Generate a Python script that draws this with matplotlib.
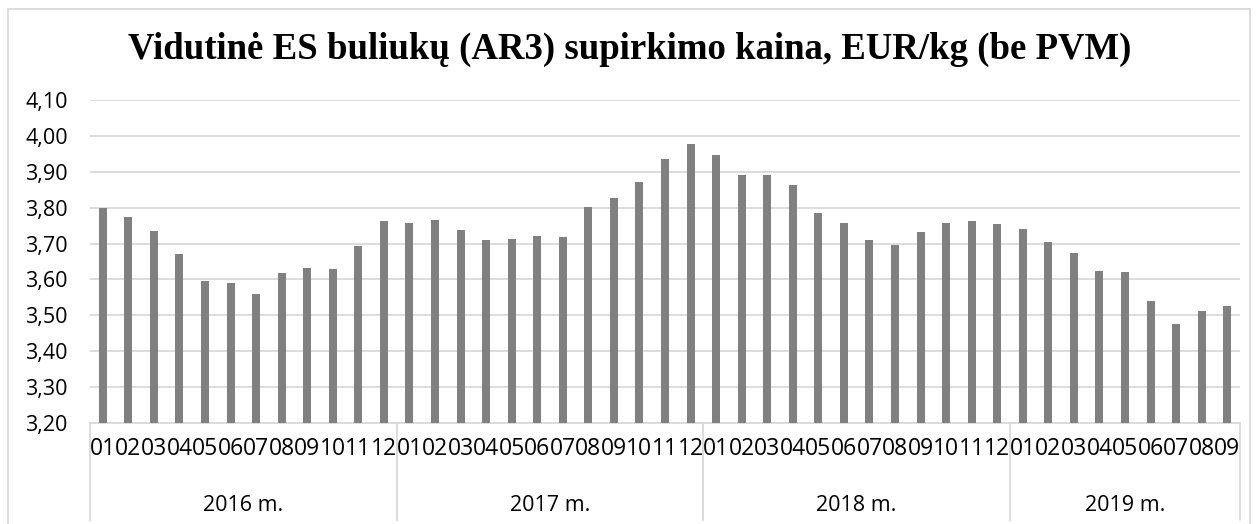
import matplotlib.pyplot as plt
from matplotlib.patches import Rectangle
from matplotlib.transforms import blended_transform_factory

# Duomenys: EUR/kg, menesiais
metai = ['2016 m.', '2017 m.', '2018 m.', '2019 m.']
menesiai_metuose = [12, 12, 12, 9]
kainos = [
    3.800, 3.775, 3.734, 3.670, 3.595, 3.591, 3.560, 3.617, 3.632, 3.628, 3.693, 3.763,
    3.757, 3.765, 3.738, 3.710, 3.713, 3.720, 3.719, 3.803, 3.827, 3.872, 3.935, 3.977,
    3.948, 3.890, 3.891, 3.862, 3.784, 3.756, 3.711, 3.696, 3.731, 3.756, 3.764, 3.754,
    3.741, 3.705, 3.675, 3.624, 3.621, 3.540, 3.475, 3.511, 3.525,
]
y_ticks = [3.2, 3.3, 3.4, 3.5, 3.6, 3.7, 3.8, 3.9, 4.0, 4.1]

men_labels = []
for n in menesiai_metuose:
    men_labels += ['%02d' % m for m in range(1, n + 1)]
x = list(range(len(kainos)))

fig = plt.figure(figsize=(12.59, 5.24), dpi=100)
ax = fig.add_axes([90 / 1259, 101 / 524, 1150 / 1259, 323 / 524])

ax.bar(x, kainos, width=0.31, color='#808080', zorder=3)

ax.set_xlim(-0.5, len(kainos) - 0.5)
ax.set_ylim(3.2, 4.1)
ax.set_yticks(y_ticks)
ax.set_yticklabels([('%.2f' % v).replace('.', ',') for v in y_ticks],
                   fontfamily='Open Sans', fontsize=15.5, color='#000000')
ax.set_xticks(x)
ax.set_xticklabels(men_labels, fontfamily='Open Sans', fontsize=16.5)
ax.tick_params(axis='both', length=0)
ax.tick_params(axis='y', pad=16)
ax.tick_params(axis='x', pad=10)

ax.yaxis.grid(True, color='#d9d9d9', linewidth=1.3, zorder=0)
for s in ['top', 'right', 'left']:
    ax.spines[s].set_visible(False)
ax.spines['bottom'].set_color('#d9d9d9')
ax.spines['bottom'].set_linewidth(1.3)

# Metu grupes po menesiais
tr = blended_transform_factory(ax.transData, ax.transAxes)
start = -0.5
ribos = [start]
for m, n in zip(metai, menesiai_metuose):
    ax.text(start + n / 2, -0.255, m, transform=tr, ha='center', va='center',
            fontfamily='Open Sans', fontsize=15.5)
    start += n
    ribos.append(start)
for r in ribos:
    ax.plot([r, r], [0, -0.3], transform=tr, color='#d9d9d9', linewidth=1.3,
            clip_on=False)

fig.text(0.5, 1 - 49 / 524, 'Vidutinė ES buliukų (AR3) supirkimo kaina, EUR/kg (be PVM)',
         ha='center', va='center', fontfamily='Liberation Serif', fontweight='bold',
         fontsize=26.5)

fig.patches.append(Rectangle((8 / 1259, -0.05), 1242 / 1259, 1.05 - 9 / 524,
                             transform=fig.transFigure, fill=False,
                             edgecolor='#d9d9d9', linewidth=1.3))

fig.savefig('out.png', dpi=100)
